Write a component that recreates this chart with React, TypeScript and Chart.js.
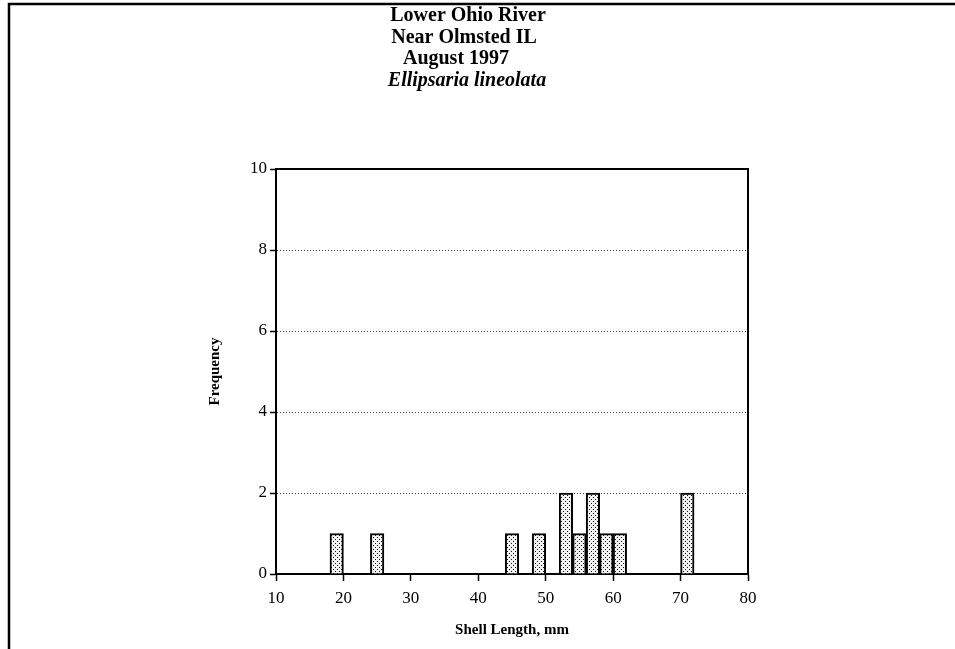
import React, { useEffect, useRef } from "react";
import { Chart, registerables } from "chart.js";

Chart.register(...registerables);

const binCenters = [19, 25, 45, 49, 53, 55, 57, 59, 61, 71];
const frequencies = [1, 1, 1, 1, 2, 1, 2, 1, 1, 2];
const xTickValues = [10, 20, 30, 40, 50, 60, 70, 80];
const yTickValues = [0, 2, 4, 6, 8, 10];
const titleLines = ["Lower Ohio River", "Near Olmsted IL", "August 1997"];
const speciesName = "Ellipsaria lineolata";
const xAxisTitle = "Shell Length, mm";
const yAxisTitle = "Frequency";

function makeStipple(): CanvasPattern | string {
  const c = document.createElement("canvas");
  c.width = 4;
  c.height = 4;
  const g = c.getContext("2d");
  if (!g) return "#ddd";
  g.fillStyle = "#f2f2f2";
  g.fillRect(0, 0, 4, 4);
  g.fillStyle = "#111111";
  g.fillRect(1, 1, 1, 1);
  g.fillRect(3, 3, 1, 1);
  return g.createPattern(c, "repeat") || "#ddd";
}

const framePlugin = {
  id: "frameAndTitles",
  afterDraw(chart: any) {
    const { ctx, chartArea } = chart;
    const { left, top, right, bottom } = chartArea;
    ctx.save();
    ctx.strokeStyle = "#000";
    ctx.lineWidth = 2;
    ctx.beginPath();
    ctx.moveTo(left, top);
    ctx.lineTo(right, top);
    ctx.lineTo(right, bottom);
    ctx.stroke();

    // page frame
    ctx.lineWidth = 2.5;
    ctx.beginPath();
    ctx.moveTo(9, chart.height);
    ctx.lineTo(9, 4);
    ctx.lineTo(chart.width, 4);
    ctx.stroke();

    // titles
    ctx.fillStyle = "#000";
    ctx.textAlign = "center";
    ctx.textBaseline = "middle";
    ctx.font = 'bold 20px "Liberation Serif"';
    const centers = [468, 464, 456];
    titleLines.forEach((t, i) => {
      ctx.fillText(t, centers[i], 16 + i * 21.5);
    });
    ctx.font = 'italic bold 20px "Liberation Serif"';
    ctx.fillText(speciesName, 467, 81);
    ctx.restore();
  },
};

export default function App() {
  const ref = useRef<HTMLCanvasElement | null>(null);

  useEffect(() => {
    if (!ref.current) return;
    const stipple = makeStipple();
    const chart = new Chart(ref.current, {
      type: "bar",
      data: {
        datasets: [
          {
            data: binCenters.map((x, i) => ({ x, y: frequencies[i] })),
            backgroundColor: stipple as any,
            borderColor: "#000",
            borderWidth: 2,
            barPercentage: 1,
            categoryPercentage: 1,
          },
        ],
      },
      options: {
        animation: false,
        responsive: false,
        maintainAspectRatio: false,
        layout: { padding: { left: 0, top: 169, right: 207, bottom: 0 } },
        plugins: {
          legend: { display: false },
          tooltip: { enabled: false },
          title: { display: false },
        },
        scales: {
          x: {
            type: "linear",
            min: 10,
            max: 80,
            offset: false,
            afterBuildTicks: (s: any) => {
              s.ticks = xTickValues.map((v) => ({ value: v }));
            },
            afterFit: (s: any) => {
              s.height = 75;
            },
            grid: {
              display: true,
              drawOnChartArea: false,
              offset: false,
              tickLength: 7,
              tickColor: "#000",
              tickWidth: 1.5,
            },
            border: { color: "#000", width: 2 },
            ticks: {
              color: "#000",
              font: { family: "Liberation Serif", size: 17 },
              padding: 7,
              maxRotation: 0,
              autoSkip: false,
            },
            title: {
              display: true,
              text: xAxisTitle,
              color: "#000",
              font: { family: "Liberation Serif", size: 15, weight: "bold" },
              padding: { top: 0, bottom: 10 },
            },
          },
          y: {
            type: "linear",
            min: 0,
            max: 10,
            afterBuildTicks: (s: any) => {
              s.ticks = yTickValues.map((v) => ({ value: v }));
            },
            afterFit: (s: any) => {
              s.width = 276;
            },
            grid: {
              color: (c: any) =>
                c.tick && (c.tick.value === 0 || c.tick.value === 10)
                  ? "rgba(0,0,0,0)"
                  : "#444",
              lineWidth: 1,
              tickLength: 6,
              tickColor: "#000",
              tickWidth: 1.5,
              tickBorderDash: [],
            },
            border: { color: "#000", width: 2, dash: [1, 2] },
            ticks: {
              color: "#000",
              font: { family: "Liberation Serif", size: 17 },
              padding: 3,
              autoSkip: false,
            },
            title: {
              display: true,
              text: yAxisTitle,
              color: "#000",
              font: { family: "Liberation Serif", size: 15, weight: "bold" },
              padding: { top: 206, bottom: 0 },
            },
          },
        },
      },
      plugins: [framePlugin],
    });
    return () => chart.destroy();
  }, []);

  return (
    <div style={{ position: "fixed", left: 0, top: 0, width: 955, height: 649, background: "#fff" }}>
      <canvas ref={ref} width={955} height={649} style={{ display: "block" }} />
    </div>
  );
}
